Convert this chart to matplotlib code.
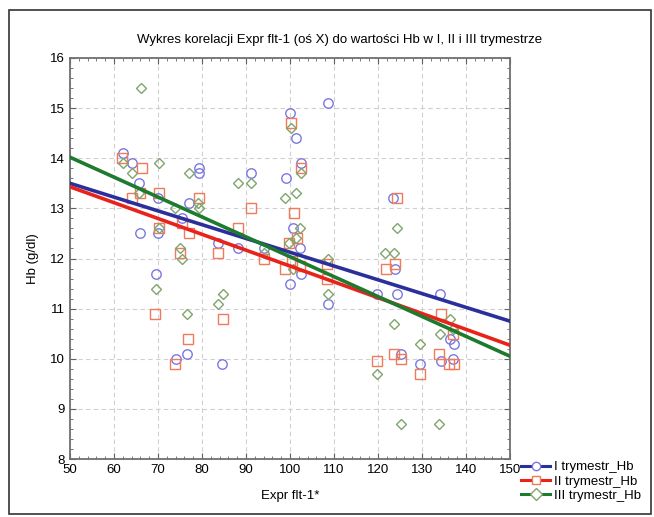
import matplotlib
matplotlib.use("Agg")
import matplotlib.pyplot as plt
from matplotlib.ticker import MultipleLocator, AutoMinorLocator
from matplotlib.lines import Line2D
from matplotlib.patches import Rectangle

# ---- data ----
x_t1 = [62, 64, 65.7, 66, 70, 70, 69.5, 74, 75.5, 76.6, 77, 79.3, 79.3, 83.6, 84.5, 88.2,
        91.2, 94, 99, 100, 100, 100.7, 101.4, 102.3, 102.5, 102.5, 108.6, 108.6, 119.8,
        123.4, 123.9, 124.3, 125.2, 129.5, 134, 134.3, 136.4, 137, 137.3]
y_t1 = [14.1, 13.9, 13.5, 12.5, 13.2, 12.5, 11.7, 10.0, 12.8, 10.1, 13.1, 13.8, 13.7, 12.3, 9.9, 12.2,
        13.7, 12.2, 13.6, 14.9, 11.5, 12.6, 14.4, 12.2, 13.9, 11.7, 15.1, 11.1, 11.3,
        13.2, 11.8, 11.3, 10.1, 9.9, 11.3, 9.95, 10.4, 10.0, 10.3]

x_t2 = [61.8, 64.1, 65.9, 66.4, 69.3, 70.2, 70.2, 73.9, 75, 75.5, 76.8, 77, 79.3, 83.6, 84.8,
        88.2, 91.1, 94.1, 98.9, 99.8, 100.2, 100.4, 101, 101.6, 102.3, 102.5, 108.4, 108.4,
        119.8, 121.8, 123.6, 123.9, 124.3, 125.2, 129.5, 133.9, 134.3, 136.1, 137, 137.3]
y_t2 = [14.0, 13.2, 13.3, 13.8, 10.9, 13.3, 12.6, 9.9, 12.1, 12.7, 10.4, 12.5, 13.2, 12.1, 10.8,
        12.6, 13.0, 12.0, 11.8, 12.3, 14.7, 11.95, 12.9, 12.4, 11.85, 13.8, 11.9, 11.6,
        9.95, 11.8, 10.1, 11.9, 13.2, 10.0, 9.7, 10.1, 10.9, 9.9, 10.5, 9.9]

x_t3 = [62, 64.1, 65.7, 66.1, 69.5, 70.2, 70.2, 73.9, 75, 75.5, 76.6, 77, 79.1, 79.3, 83.6,
        84.8, 88.2, 91.1, 94.1, 98.9, 99.8, 100.2, 100.7, 101.4, 101.4, 102.3, 102.5, 108.6,
        108.6, 119.8, 121.6, 123.6, 123.6, 124.3, 125.2, 129.5, 133.9, 134.1, 136.4, 137]
y_t3 = [13.9, 13.7, 13.3, 15.4, 11.4, 13.9, 12.6, 13.0, 12.2, 12.0, 10.9, 13.7, 13.1, 13.0, 11.1,
        11.3, 13.5, 13.5, 12.1, 13.2, 12.3, 14.6, 11.8, 13.3, 12.4, 12.6, 13.7, 12.0,
        11.3, 9.7, 12.1, 12.1, 10.7, 12.6, 8.7, 10.3, 8.7, 10.5, 10.8, 10.6]

# regression line end points (x range 50..150)
fit_x = [50, 150]
fit_t1 = [13.5, 10.75]
fit_t2 = [13.43, 10.27]
fit_t3 = [14.02, 10.05]

labels = ["I trymestr_Hb", "II trymestr_Hb", "III trymestr_Hb"]
title = "Wykres korelacji Expr flt-1 (oś X) do wartości Hb w I, II i III trymestrze"

plt.rcParams['font.family'] = ['Liberation Sans', 'DejaVu Sans']

fig = plt.figure(figsize=(6.54, 5.17), dpi=100)
ax = fig.add_axes([70/654, 1 - 459/517, 440/654, 401/517])

line_cols = ["#2b2f9c", "#e8231b", "#1d7a2e"]
mark_cols = ["#7a78e0", "#f07a5a", "#7fa56c"]

ax.plot(x_t1, y_t1, linestyle='none', marker='o', ms=6.8, mfc='none', mec=mark_cols[0], mew=1.0, zorder=3)
ax.plot(x_t2, y_t2, linestyle='none', marker='s', ms=6.8, mfc='none', mec=mark_cols[1], mew=1.0, zorder=3)
ax.plot(x_t3, y_t3, linestyle='none', marker='D', ms=5.2, mfc='none', mec=mark_cols[2], mew=1.0, zorder=3)

ax.plot(fit_x, fit_t1, color=line_cols[0], lw=2.6, zorder=4)
ax.plot(fit_x, fit_t2, color=line_cols[1], lw=2.6, zorder=4)
ax.plot(fit_x, fit_t3, color=line_cols[2], lw=2.6, zorder=4)

ax.set_xlim(50, 150)
ax.set_ylim(8, 16)
ax.xaxis.set_major_locator(MultipleLocator(10))
ax.yaxis.set_major_locator(MultipleLocator(1))
ax.xaxis.set_minor_locator(AutoMinorLocator(5))
ax.yaxis.set_minor_locator(AutoMinorLocator(5))
ax.grid(True, which='major', linestyle=(0, (4, 3)), color='#d0d0d0', lw=0.8)
ax.tick_params(which='both', direction='in', top=True, right=True, labelsize=9.5, color='#606060')
ax.tick_params(which='major', length=4)
ax.tick_params(which='minor', length=2)
for s in ax.spines.values():
    s.set_color('#707070')
    s.set_linewidth(1.3)
ax.set_axisbelow(True)

ax.set_xlabel("Expr flt-1*", fontsize=9.5, labelpad=10)
ax.set_ylabel("Hb (g/dl)", fontsize=9.5, labelpad=8)
fig.text(340/654, 1 - 40/517, title, ha='center', va='center', fontsize=9.5)

handles = []
for lc, mc, mk in zip(line_cols, mark_cols, ['o', 's', 'D']):
    handles.append(Line2D([], [], color=lc, lw=2.2, marker=mk, ms=6, mfc='white', mec=mc))
fig.legend(handles, labels, loc='upper left', bbox_to_anchor=(512/654, 1 - 452/517),
           frameon=False, fontsize=9.5, handlelength=2.2, handletextpad=0.3,
           labelspacing=0.15, borderpad=0.2)

fig.patches.append(Rectangle((9/654, 0.005), 642/654, 1 - 10/517 - 0.005,
                             transform=fig.transFigure, fill=False, ec='#333333', lw=1.2))

fig.savefig("out.png", dpi=100)
